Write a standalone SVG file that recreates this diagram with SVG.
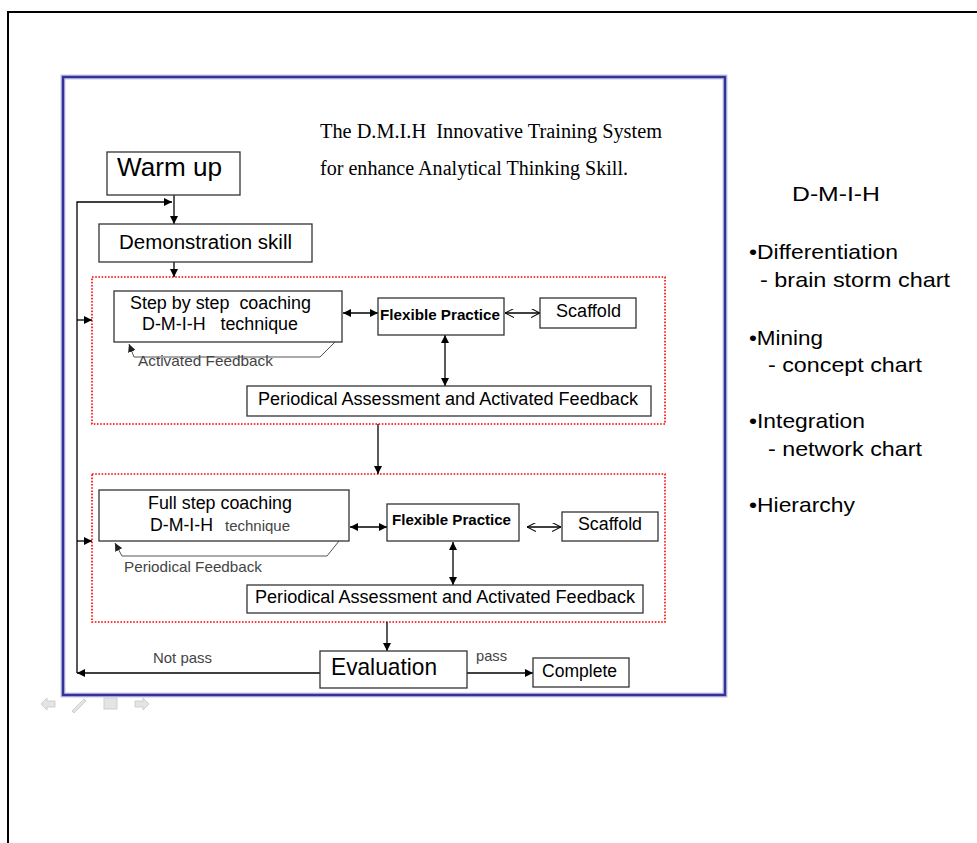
<svg xmlns="http://www.w3.org/2000/svg" width="977" height="843" viewBox="0 0 977 843">
<style>
.box{fill:#fff;stroke:#333;stroke-width:1.3}
.dot{fill:none;stroke:#f00;stroke-width:1.6;stroke-dasharray:1.6 1.6}
.ln{fill:none;stroke:#000;stroke-width:1.3}
.gl{fill:none;stroke:#555;stroke-width:1}
text{white-space:pre}
.t{font-family:"Liberation Sans",Arial,sans-serif;fill:#000}
.s{font-family:"Liberation Serif","Times New Roman",serif;fill:#000;font-size:20px}
.g{font-family:"Liberation Sans",Arial,sans-serif;fill:#444;font-size:15px}
.b{font-weight:bold;font-size:14px}
.r{font-family:"Liberation Sans",Arial,sans-serif;fill:#000;font-size:21px}
</style>
<defs>
<marker id="af" viewBox="0 0 10 10" refX="10" refY="5" markerWidth="8" markerHeight="8" markerUnits="userSpaceOnUse" orient="auto-start-reverse"><path d="M0,0 L10,5 L0,10 z" fill="#000"/></marker>
<marker id="ao" viewBox="0 0 10 10" refX="10" refY="5" markerWidth="9" markerHeight="9" markerUnits="userSpaceOnUse" orient="auto-start-reverse"><path d="M0,0 L10,5 L0,10" fill="none" stroke="#000" stroke-width="1.2"/></marker>
<marker id="ag" viewBox="0 0 10 10" refX="10" refY="5" markerWidth="8" markerHeight="8" markerUnits="userSpaceOnUse" orient="auto"><path d="M0,0 L10,5 L0,10 z" fill="#222"/></marker>
</defs>
<rect width="977" height="843" fill="#fff"/>
<path d="M8,843 V12 H977" fill="none" stroke="#000" stroke-width="2"/>
<rect x="63" y="77" width="662" height="618" fill="none" stroke="#c8c8ea" stroke-width="5"/>
<rect x="63" y="77" width="662" height="618" fill="none" stroke="#333399" stroke-width="2.5"/>
<g id="nav" fill="#e4e4e4" stroke="#cfcfcf" stroke-width="1">
<path d="M41,704 L47,698 V701 H55 V707 H47 V710 z"/>
<path d="M72,711 L84,699 L86,701 L74,713 z"/>
<rect x="104" y="698" width="13" height="11"/>
<path d="M149,704 L143,698 V701 H135 V707 H143 V710 z"/>
</g>
<g id="title">
<text class="s" x="320" y="138" textLength="342" lengthAdjust="spacingAndGlyphs">The D.M.I.H  Innovative Training System</text>
<text class="s" x="320" y="175" textLength="308" lengthAdjust="spacingAndGlyphs">for enhance Analytical Thinking Skill.</text>
</g>
<g id="dotbox1"><rect class="dot" x="92" y="277" width="573" height="147"/></g>
<g id="dotbox2"><rect class="dot" x="92" y="474" width="573" height="148"/></g>
<g id="connectors">
<line class="ln" x1="174" y1="195" x2="174" y2="224" marker-end="url(#af)"/>
<path class="ln" d="M77,673 V202 H172" marker-end="url(#af)"/>
<line class="ln" x1="174" y1="262" x2="174" y2="277" marker-end="url(#af)"/>
<line class="ln" x1="77" y1="320" x2="92" y2="320" marker-end="url(#af)"/>
<line class="ln" x1="77" y1="541" x2="92" y2="541" marker-end="url(#af)"/>
<line class="ln" x1="343" y1="313" x2="378" y2="313" marker-start="url(#af)" marker-end="url(#af)"/>
<line class="ln" x1="505" y1="313" x2="540" y2="313" marker-start="url(#ao)" marker-end="url(#ao)"/>
<line class="ln" x1="445" y1="335" x2="445" y2="386" marker-start="url(#af)" marker-end="url(#af)"/>
<path class="gl" d="M335,342 L320,357 H134 L129,344" marker-end="url(#ag)"/>
<line class="ln" x1="378" y1="424" x2="378" y2="474" marker-end="url(#af)"/>
<line class="ln" x1="350" y1="527" x2="387" y2="527" marker-start="url(#af)" marker-end="url(#af)"/>
<line class="ln" x1="527" y1="527" x2="561" y2="527" marker-start="url(#ao)" marker-end="url(#ao)"/>
<line class="ln" x1="453" y1="542" x2="453" y2="585" marker-start="url(#af)" marker-end="url(#af)"/>
<path class="gl" d="M339,541 L327,556 H122 L115,543" marker-end="url(#ag)"/>
<line class="ln" x1="387" y1="622" x2="387" y2="651" marker-end="url(#af)"/>
<line class="ln" x1="320" y1="673" x2="77" y2="673" marker-end="url(#af)"/>
<line class="ln" x1="467" y1="673" x2="533" y2="673" marker-end="url(#af)"/>
</g>
<g id="warmup"><rect class="box" x="107" y="152" width="133" height="43"/><text class="t" x="117" y="176" font-size="25" textLength="105" lengthAdjust="spacingAndGlyphs">Warm up</text></g>
<g id="demo"><rect class="box" x="99" y="224" width="213" height="38"/><text class="t" x="119" y="249" font-size="20" textLength="173" lengthAdjust="spacingAndGlyphs">Demonstration skill</text></g>
<g id="step"><rect class="box" x="114" y="291" width="228" height="51"/>
<text class="t" x="130" y="309" font-size="18" textLength="181" lengthAdjust="spacingAndGlyphs">Step by step  coaching</text>
<text class="t" x="142" y="330" font-size="18" textLength="156" lengthAdjust="spacingAndGlyphs">D-M-I-H   technique</text></g>
<g id="fb1"><text class="g" x="138" y="366" textLength="135" lengthAdjust="spacingAndGlyphs">Activated Feedback</text></g>
<g id="flex1"><rect class="box" x="378" y="298" width="126" height="37"/><text class="t b" x="380" y="320" textLength="120" lengthAdjust="spacingAndGlyphs">Flexible Practice</text></g>
<g id="scaf1"><rect class="box" x="540" y="298" width="96" height="30"/><text class="t" x="556" y="317" font-size="18" textLength="65" lengthAdjust="spacingAndGlyphs">Scaffold</text></g>
<g id="pa1"><rect class="box" x="247" y="386" width="404" height="30"/><text class="t" x="258" y="405" font-size="18" textLength="380" lengthAdjust="spacingAndGlyphs">Periodical Assessment and Activated Feedback</text></g>
<g id="full"><rect class="box" x="99" y="490" width="250" height="51"/>
<text class="t" x="148" y="509" font-size="18" textLength="144" lengthAdjust="spacingAndGlyphs">Full step coaching</text>
<text class="t" x="150" y="531" font-size="18" textLength="63" lengthAdjust="spacingAndGlyphs">D-M-I-H</text>
<text class="g" x="225" y="531" textLength="65" lengthAdjust="spacingAndGlyphs">technique</text></g>
<g id="fb2"><text class="g" x="124" y="572" textLength="138" lengthAdjust="spacingAndGlyphs">Periodical Feedback</text></g>
<g id="flex2"><rect class="box" x="387" y="504" width="132" height="37"/><text class="t b" x="392" y="525" textLength="119" lengthAdjust="spacingAndGlyphs">Flexible Practice</text></g>
<g id="scaf2"><rect class="box" x="562" y="512" width="96" height="29"/><text class="t" x="578" y="530" font-size="18" textLength="64" lengthAdjust="spacingAndGlyphs">Scaffold</text></g>
<g id="pa2"><rect class="box" x="247" y="585" width="396" height="28"/><text class="t" x="255" y="603" font-size="18" textLength="380" lengthAdjust="spacingAndGlyphs">Periodical Assessment and Activated Feedback</text></g>
<g id="eval"><rect class="box" x="320" y="651" width="147" height="37"/><text class="t" x="331" y="675" font-size="24" textLength="106" lengthAdjust="spacingAndGlyphs">Evaluation</text></g>
<g id="complete"><rect class="box" x="533" y="658" width="96" height="29"/><text class="t" x="542" y="677" font-size="18" textLength="75" lengthAdjust="spacingAndGlyphs">Complete</text></g>
<g id="labels"><text class="g" x="153" y="663" textLength="59" lengthAdjust="spacingAndGlyphs">Not pass</text><text class="g" x="476" y="661" textLength="31" lengthAdjust="spacingAndGlyphs">pass</text></g>
<g id="legend">
<text class="r" x="792" y="201" textLength="88" lengthAdjust="spacingAndGlyphs">D-M-I-H</text>
<text class="r" x="749" y="259" textLength="149" lengthAdjust="spacingAndGlyphs">•Differentiation</text>
<text class="r" x="760" y="287" textLength="190" lengthAdjust="spacingAndGlyphs">- brain storm chart</text>
<text class="r" x="749" y="345" textLength="74" lengthAdjust="spacingAndGlyphs">•Mining</text>
<text class="r" x="768" y="372" textLength="154" lengthAdjust="spacingAndGlyphs">- concept chart</text>
<text class="r" x="749" y="428" textLength="116" lengthAdjust="spacingAndGlyphs">•Integration</text>
<text class="r" x="768" y="456" textLength="154" lengthAdjust="spacingAndGlyphs">- network chart</text>
<text class="r" x="749" y="512" textLength="106" lengthAdjust="spacingAndGlyphs">•Hierarchy</text>
</g>
</svg>
